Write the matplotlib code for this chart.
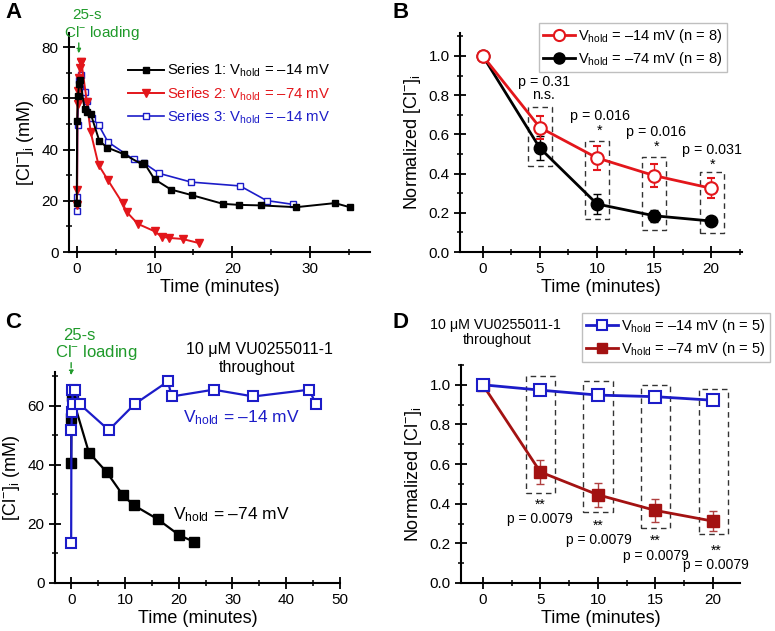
import matplotlib
matplotlib.use('Agg')
import matplotlib.pyplot as plt
from matplotlib.ticker import MultipleLocator, FormatStrFormatter
from matplotlib.lines import Line2D

plt.rcParams['font.family'] = ['Liberation Sans', 'DejaVu Sans']
plt.rcParams['mathtext.fontset'] = 'custom'
plt.rcParams['mathtext.rm'] = 'Liberation Sans'
plt.rcParams['mathtext.it'] = 'Liberation Sans:italic'
plt.rcParams['axes.linewidth'] = 1.5

# ---- panel A: raw [Cl-]i traces
a_s1_t = [0, 0.05, 0.15, 0.3, 0.45, 1.0, 1.3, 1.8, 2.9, 3.9, 6.05, 8.4, 8.7, 10.0, 12.1, 14.8, 18.8, 20.9, 23.7, 28.2, 33.2, 35.1]
a_s1_c = [19.2, 51, 61, 65.5, 67, 55.8, 54.5, 53.9, 43.4, 40.8, 38.2, 34.2, 34.6, 28.4, 24.4, 22.2, 18.8, 18.4, 18.2, 17.5, 19.1, 17.5]
a_s2_t = [0, 0.05, 0.1, 0.2, 0.3, 0.4, 0.5, 0.6, 1.3, 1.8, 2.8, 4.0, 5.9, 6.4, 7.85, 10.0, 10.9, 11.9, 13.6, 15.7]
a_s2_c = [18.3, 24.4, 57.8, 63, 68, 72, 74, 74, 58.7, 46.7, 34, 28.1, 19, 15.7, 11, 8.1, 6, 5.5, 5.1, 3.5]
a_s3_t = [0, 0.05, 0.1, 0.3, 0.5, 1.0, 1.3, 1.9, 2.8, 4.0, 7.3, 8.7, 10.6, 14.7, 21.0, 24.4, 27.8]
a_s3_c = [16.2, 21.4, 49.7, 67, 69, 62.4, 58.8, 52.3, 49.7, 43, 36.2, 34.6, 30.7, 27.3, 25.8, 20.1, 18.6]

# ---- panel B: normalized, no drug
b_t = [0, 5, 10, 15, 20]
b_m14 = [1.0, 0.635, 0.48, 0.39, 0.325]
b_m14_err = [0, 0.06, 0.06, 0.06, 0.05]
b_m74 = [1.0, 0.53, 0.245, 0.185, 0.158]
b_m74_err = [0, 0.06, 0.05, 0.03, 0.015]
b_pvals = ['p = 0.31', 'p = 0.016', 'p = 0.016', 'p = 0.031']
b_marks = ['n.s.', '*', '*', '*']

# ---- panel C: raw traces with VU0255011-1
c_m14_t = [0, 0.05, 0.15, 0.3, 0.2, 0.7, 1.6, 7.0, 11.8, 18.0, 18.7, 26.5, 33.9, 44.3, 45.5]
c_m14_c = [13.5, 52, 58, 60.6, 65.5, 65.5, 60.6, 51.8, 60.6, 68.3, 63.2, 65.5, 63.2, 65.5, 60.6]
c_m74_t = [0, 0.05, 0.15, 0.4, 3.3, 6.6, 9.6, 11.6, 16.1, 20.1, 22.9]
c_m74_c = [40.5, 55.8, 63.2, 62, 44.2, 37.6, 29.8, 26.4, 21.6, 16.2, 13.9]

# ---- panel D: normalized with VU0255011-1
d_t = [0, 5, 10, 15, 20]
d_m14 = [1.0, 0.973, 0.948, 0.94, 0.922]
d_m14_err = [0, 0.01, 0.01, 0.01, 0.012]
d_m74 = [1.0, 0.56, 0.445, 0.366, 0.312]
d_m74_err = [0, 0.06, 0.06, 0.06, 0.05]
d_pvals = ['p = 0.0079', 'p = 0.0079', 'p = 0.0079', 'p = 0.0079']
d_marks = ['**', '**', '**', '**']

RED = '#e3161b'
BLUE = '#1c1cc8'
DKRED = '#a31212'
GREEN = '#1f9a2a'
CL_LABEL = '[Cl$^{-}$]$_{\\rm i}$ (mM)'
NORM_LABEL = 'Normalized [Cl$^{-}$]$_{\\rm i}$'


def style(ax, xmaj, xmin, ymaj, ymin):
    for s in ['top', 'right']:
        ax.spines[s].set_visible(False)
    ax.xaxis.set_major_locator(MultipleLocator(xmaj))
    ax.xaxis.set_minor_locator(MultipleLocator(xmin))
    ax.yaxis.set_major_locator(MultipleLocator(ymaj))
    ax.yaxis.set_minor_locator(MultipleLocator(ymin))
    ax.tick_params(which='major', direction='inout', length=8, width=1.3, labelsize=11)
    ax.tick_params(which='minor', direction='inout', length=5, width=1.1)
    ax.set_xlabel('Time (minutes)', fontsize=13, labelpad=2)


def dashed_boxes(ax, xs, ys):
    for (x0, x1), (y0, y1) in zip(xs, ys):
        ax.plot([x0, x1, x1, x0, x0], [y0, y0, y1, y1, y0], ls=(0, (4, 3)), color='#333333', lw=1)


fig = plt.figure(figsize=(7.75, 6.31), dpi=100)
axA = fig.add_axes([0.089, 0.6006, 0.3884, 0.3471])
axB = fig.add_axes([0.5935, 0.6006, 0.3639, 0.3471])
axC = fig.add_axes([0.071, 0.0761, 0.3677, 0.3344])
axD = fig.add_axes([0.5948, 0.0761, 0.36, 0.3455])

# ---- A
axA.plot(a_s1_t, a_s1_c, '-s', color='black', ms=5, lw=1.4, label='Series 1: V$_{\\rm hold}$ = \u201314 mV', zorder=4)
axA.plot(a_s2_t, a_s2_c, '-v', color=RED, ms=6, lw=1.4, label='Series 2: V$_{\\rm hold}$ = \u201374 mV', zorder=3)
axA.plot(a_s3_t, a_s3_c, '-s', color=BLUE, mfc='white', ms=5, lw=1.2, label='Series 3: V$_{\\rm hold}$ = \u201314 mV', zorder=2)
axA.set_xlim(-1, 37.7)
axA.set_ylim(0, 85.5)
style(axA, 10, 5, 20, 10)
axA.set_ylabel(CL_LABEL, fontsize=13, labelpad=4)
axA.legend(loc='center left', bbox_to_anchor=(128 / 775, 1 - 94 / 631), bbox_transform=fig.transFigure,
           frameon=False, fontsize=10.7, labelcolor='linecolor', handlelength=2.4,
           handletextpad=0.2, labelspacing=0.4, borderpad=0, borderaxespad=0)
axA.text(1.3, 92.5, '25-s', color=GREEN, fontsize=11, ha='center', va='center', clip_on=False)
axA.text(3.2, 85.5, 'Cl$^{-}$ loading', color=GREEN, fontsize=11, ha='center', va='center', clip_on=False)
axA.annotate('', xy=(0.26, 76.5), xytext=(0.26, 82.7), annotation_clip=False,
             arrowprops=dict(arrowstyle='-|>', color=GREEN, lw=1, ls='--', mutation_scale=6))

# ---- B
axB.errorbar(b_t, b_m14, yerr=b_m14_err, fmt='-o', color=RED, mfc='white', mec=RED, mew=1.5,
             ms=9, lw=2, elinewidth=1, capsize=3, ecolor=RED, zorder=3)
axB.errorbar(b_t, b_m74, yerr=b_m74_err, fmt='-o', color='black', ms=9, lw=2, elinewidth=1,
             capsize=3, zorder=2)
axB.set_xlim(-2, 22.7)
axB.set_ylim(0, 1.117)
style(axB, 5, 2.5, 0.2, 0.1)
axB.yaxis.set_major_formatter(FormatStrFormatter('%.1f'))
axB.set_ylabel(NORM_LABEL, fontsize=13, labelpad=4)
b_handles = [Line2D([], [], color=RED, lw=2, marker='o', ms=8, mfc='white', mew=1.5),
             Line2D([], [], color='black', lw=2, marker='o', ms=8)]
leg = axB.legend(b_handles, ['V$_{\\rm hold}$ = \u201314 mV (n = 8)', 'V$_{\\rm hold}$ = \u201374 mV (n = 8)'],
                 loc='upper right', bbox_to_anchor=(727 / 775, 1 - 23 / 631), bbox_transform=fig.transFigure,
                 fontsize=10.5, fancybox=False, edgecolor='#b0b0b0', handlelength=2.2,
                 handletextpad=0.2, labelspacing=0.3, borderpad=0.3, borderaxespad=0)
leg.get_frame().set_linewidth(1)
dashed_boxes(axB, [(3.95, 6.05), (8.96, 11.04), (13.96, 16.06), (18.98, 21.1)],
             [(0.438, 0.738), (0.167, 0.567), (0.114, 0.486), (0.097, 0.409)])
# p value on top, significance mark underneath (one text, two lines)
b_txt_xy = [(5.35, 0.835), (10.25, 0.655), (15.2, 0.575), (20.1, 0.483)]
for p, m, (x, y) in zip(b_pvals, b_marks, b_txt_xy):
    axB.text(x, y, p + '\n' + m, fontsize=10.3, ha='center', va='center',
             linespacing=0.95 if m == 'n.s.' else 1.05)

# ---- C
axC.plot(c_m14_t, c_m14_c, '-s', color=BLUE, mfc='white', mew=1.5, ms=7, lw=1.6, zorder=3)
axC.plot(c_m74_t, c_m74_c, '-s', color='black', ms=7, lw=1.6, zorder=2)
axC.set_xlim(-3, 50)
axC.set_ylim(0, 71.5)
style(axC, 10, 5, 20, 10)
axC.set_ylabel(CL_LABEL, fontsize=13, labelpad=4)
axC.text(1.5, 84, '25-s', color=GREEN, fontsize=12, ha='center', va='center', clip_on=False)
axC.text(4.6, 78, 'Cl$^{-}$ loading', color=GREEN, fontsize=12, ha='center', va='center', clip_on=False)
axC.annotate('', xy=(0, 69.5), xytext=(0, 75.6), annotation_clip=False,
             arrowprops=dict(arrowstyle='-|>', color=GREEN, lw=1, ls='--', mutation_scale=6))
axC.text(35.1, 79, '10 \u03bcM VU0255011-1', fontsize=11.5, ha='center', va='center', clip_on=False)
axC.text(34.6, 72.9, 'throughout', fontsize=11.5, ha='center', va='center', clip_on=False)
axC.text(20.8, 55.9, 'V$_{\\rm hold}$ = \u201314 mV', color=BLUE, fontsize=12.5, ha='left', va='center')
axC.text(19.0, 23.0, 'V$_{\\rm hold}$ = \u201374 mV', color='black', fontsize=12.5, ha='left', va='center')

# ---- D
axD.errorbar(d_t, d_m14, yerr=d_m14_err, fmt='-s', color=BLUE, mfc='white', mec=BLUE, mew=1.5,
             ms=8, lw=2, elinewidth=1, capsize=3, zorder=3)
axD.errorbar(d_t, d_m74, yerr=d_m74_err, fmt='-s', color=DKRED, ms=8, lw=2, elinewidth=1,
             capsize=3, ecolor='#b04040', zorder=2)
axD.set_xlim(-1.9, 22.35)
axD.set_ylim(0, 1.10)
style(axD, 5, 2.5, 0.2, 0.1)
axD.yaxis.set_major_formatter(FormatStrFormatter('%.1f'))
axD.set_ylabel(NORM_LABEL, fontsize=13, labelpad=4)
d_handles = [Line2D([], [], color=BLUE, lw=2, marker='s', ms=7.5, mfc='white', mew=1.5),
             Line2D([], [], color=DKRED, lw=2, marker='s', ms=7.5)]
leg = axD.legend(d_handles, ['V$_{\\rm hold}$ = \u201314 mV (n = 5)', 'V$_{\\rm hold}$ = \u201374 mV (n = 5)'],
                 loc='upper right', bbox_to_anchor=(770 / 775, 1 - 313 / 631), bbox_transform=fig.transFigure,
                 fontsize=10.5, fancybox=False, edgecolor='#b0b0b0', handlelength=2.2,
                 handletextpad=0.2, labelspacing=0.3, borderpad=0.3, borderaxespad=0)
leg.get_frame().set_linewidth(1)
dashed_boxes(axD, [(3.72, 6.31), (8.72, 11.28), (13.72, 16.28), (18.75, 21.28)],
             [(0.455, 1.044), (0.359, 1.018), (0.279, 0.998), (0.246, 0.981)])
# significance mark on top, p value underneath
d_txt_xy = [(5.0, 0.36), (10.05, 0.252), (15.0, 0.175), (20.25, 0.125)]
for p, m, (x, y) in zip(d_pvals, d_marks, d_txt_xy):
    axD.text(x, y, m + '\n' + p, fontsize=10, ha='center', va='center', linespacing=1.05)
axD.text(1.1, 1.303, '10 \u03bcM VU0255011-1', fontsize=10.3, ha='center', va='center', clip_on=False)
axD.text(1.2, 1.227, 'throughout', fontsize=10.3, ha='center', va='center', clip_on=False)

# panel letters
for lab, (px, py) in zip('ABCD', [(5, 12), (392, 12), (5, 323), (393, 323)]):
    fig.text(px / 775, 1 - py / 631, lab, fontsize=16, fontweight='bold', ha='left', va='center')

fig.savefig('out.png', dpi=100)
plt.close(fig)
